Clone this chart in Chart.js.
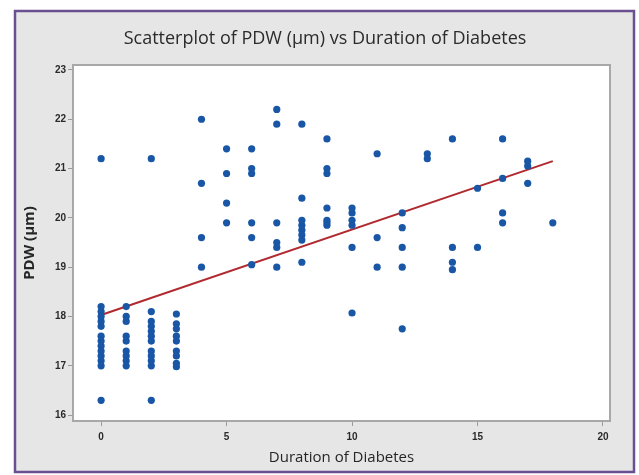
<!DOCTYPE html>
<html>
<head>
<meta charset="utf-8">
<script src="https://cdn.jsdelivr.net/npm/chart.js@4/dist/chart.umd.min.js"></script>
<style>
  html, body { margin: 0; padding: 0; background: #ffffff; }
  #wrap { width: 639px; height: 475px; position: relative; }
</style>
</head>
<body>
<div id="wrap"><canvas id="c" width="639" height="475"></canvas></div>
<script>
// ---- Data ----
const duration = [
  0,0,0,0,0,0,0,0,0,0,0,0,0,0,
  1,1,1,1,1,1,1,1,1,
  2,2,2,2,2,2,2,2,2,2,2,2,
  3,3,3,3,3,3,3,3,3,
  4,4,4,4,
  5,5,5,5,
  6,6,6,6,6,6,
  7,7,7,7,7,7,
  8,8,8,8,8,8,8,8,
  9,9,9,9,9,9,9,
  10,10,10,10,10,10,
  11,11,11,
  12,12,12,12,12,
  13,13,
  14,14,14,14,
  15,15,
  16,16,16,16,
  17,17,17,
  18
];
const pdw = [
  21.2,18.2,18.1,18.0,17.9,17.8,17.6,17.5,17.4,17.3,17.2,17.1,17.0,16.3,
  18.2,18.0,17.9,17.6,17.5,17.3,17.2,17.1,17.0,
  21.2,18.1,17.9,17.8,17.7,17.6,17.5,17.3,17.2,17.1,17.0,16.3,
  18.05,17.85,17.75,17.6,17.5,17.3,17.2,17.05,16.98,
  22.0,20.7,19.6,19.0,
  21.4,20.9,20.3,19.9,
  21.4,21.0,20.9,19.9,19.6,19.05,
  22.2,21.9,19.9,19.5,19.4,19.0,
  21.9,20.4,19.95,19.85,19.75,19.65,19.55,19.1,
  21.6,21.0,20.9,20.2,19.95,19.85,19.9,
  20.2,20.1,19.95,19.85,19.4,18.07,
  21.3,19.6,19.0,
  20.1,19.8,19.4,19.0,17.75,
  21.3,21.2,
  21.6,19.4,19.1,18.95,
  20.6,19.4,
  21.6,20.8,20.1,19.9,
  21.15,21.05,20.7,
  19.9
];
const fitX = [0, 18];
const fitY = [18.03, 21.15];
const xTicks = [0, 5, 10, 15, 20];
const yTicks = [16, 17, 18, 19, 20, 21, 22, 23];

const titleText = 'Scatterplot of PDW (µm) vs Duration of Diabetes';
const xTitle = 'Duration of Diabetes';
const yTitle = 'PDW (µm)';

const points = duration.map((d, i) => ({ x: d, y: pdw[i] }));
const fitPoints = fitX.map((d, i) => ({ x: d, y: fitY[i] }));

const framePlugin = {
  id: 'frame',
  beforeDraw(chart) {
    const ctx = chart.ctx;
    const a = chart.chartArea;
    ctx.save();
    ctx.fillStyle = '#ffffff';
    ctx.fillRect(0, 0, chart.width, chart.height);
    ctx.fillStyle = '#e6e6e6';
    ctx.fillRect(15, 11, 619, 461);
    ctx.strokeStyle = '#6a4f93';
    ctx.lineWidth = 2.5;
    ctx.strokeRect(15, 11, 619, 461);
    ctx.fillStyle = '#ffffff';
    ctx.fillRect(a.left, a.top, a.right - a.left, a.bottom - a.top);
    ctx.fillStyle = '#2b2b2b';
    ctx.font = '18px "Open Sans", "Liberation Sans", sans-serif';
    ctx.textAlign = 'center';
    ctx.textBaseline = 'middle';
    ctx.fillText(titleText, 325, 39);
    ctx.restore();
  },
  beforeDatasetsDraw(chart) {
    const ctx = chart.ctx;
    const a = chart.chartArea;
    ctx.save();
    ctx.strokeStyle = '#a8a8a8';
    ctx.lineWidth = 2;
    ctx.strokeRect(a.left, a.top, a.right - a.left, a.bottom - a.top);
    ctx.restore();
  }
};

new Chart(document.getElementById('c'), {
  type: 'scatter',
  data: {
    datasets: [
      {
        label: 'PDW',
        data: points,
        backgroundColor: '#1957a6',
        borderColor: '#1957a6',
        borderWidth: 0,
        pointRadius: 3.6,
        pointHoverRadius: 3.6,
        order: 1
      },
      {
        label: 'Fit',
        type: 'line',
        data: fitPoints,
        borderColor: '#b02a30',
        borderWidth: 2,
        pointRadius: 0,
        fill: false,
        order: 2
      }
    ]
  },
  options: {
    responsive: false,
    animation: false,
    devicePixelRatio: 1,
    layout: { padding: { left: 16, top: 65, right: 29, bottom: 4 } },
    plugins: {
      legend: { display: false },
      tooltip: { enabled: false },
      title: { display: false }
    },
    scales: {
      x: {
        type: 'linear',
        min: -1.12,
        max: 20.28,
        afterFit(scale) { scale.height = 50; },
        afterBuildTicks(scale) { scale.ticks = xTicks.map(v => ({ value: v })); },
        grid: { drawOnChartArea: false, drawTicks: true, tickLength: 5, color: '#9a9a9a', lineWidth: 1 },
        border: { display: false },
        ticks: {
          padding: 5,
          color: '#2a2a2a',
          font: { size: 10, weight: 'bold', family: '"Liberation Sans", sans-serif' },
          maxRotation: 0
        },
        title: {
          display: true,
          text: xTitle,
          color: '#262626',
          font: { size: 15, family: '"Open Sans", "Liberation Sans", sans-serif' },
          padding: 4
        }
      },
      y: {
        type: 'linear',
        min: 15.88,
        max: 23.1,
        afterFit(scale) { scale.width = 57; },
        afterBuildTicks(scale) { scale.ticks = yTicks.map(v => ({ value: v })); },
        grid: { drawOnChartArea: false, drawTicks: true, tickLength: 5, color: '#9a9a9a', lineWidth: 1 },
        border: { display: false },
        ticks: {
          padding: 2,
          color: '#2a2a2a',
          font: { size: 10, weight: 'bold', family: '"Liberation Sans", sans-serif' }
        },
        title: {
          display: true,
          text: yTitle,
          color: '#262626',
          font: { size: 15, weight: 'bold', family: '"Open Sans", "Liberation Sans", sans-serif' },
          padding: 5
        }
      }
    }
  },
  plugins: [framePlugin]
});
</script>
</body>
</html>
